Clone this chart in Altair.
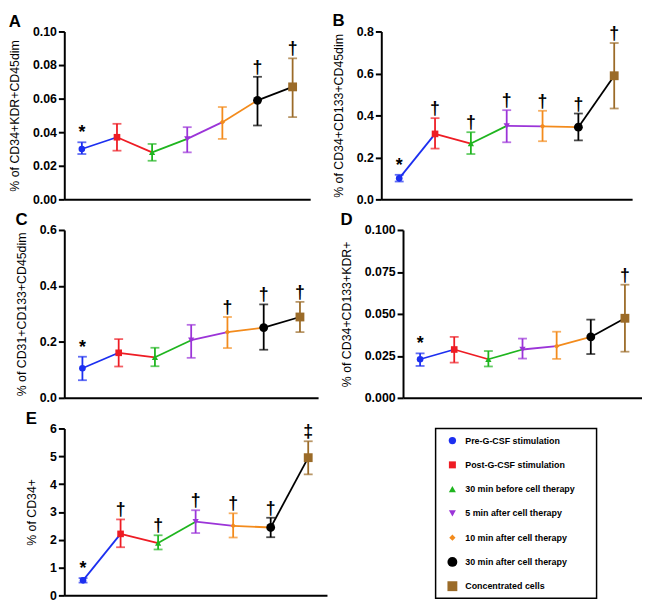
import altair as alt
import pandas as pd

categories = [
    "Pre-G-CSF stimulation",
    "Post-G-CSF stimulation",
    "30 min before cell therapy",
    "5 min after cell therapy",
    "10 min after cell therapy",
    "30 min after cell therapy",
    "Concentrated cells",
]
colors = ["#1c2ff0", "#ee1c24", "#1fb51f", "#9b34d8", "#f38b1c", "#000000", "#9b6b28"]
shapes = ["circle", "square", "triangle-up", "triangle-down", "diamond", "circle", "square"]
plot_sizes = [45, 45, 40, 40, 30, 80, 80]
legend_sizes = [55, 50, 50, 50, 40, 100, 100]

# Panel A
A_mean = [0.030, 0.037, 0.028, 0.036, 0.046, 0.059, 0.067]
A_lo = [0.027, 0.029, 0.023, 0.028, 0.036, 0.044, 0.049]
A_hi = [0.034, 0.045, 0.033, 0.043, 0.055, 0.073, 0.084]
A_sig = ["*", "", "", "", "", "†", "†"]

# Panel B
B_mean = [0.100, 0.312, 0.266, 0.350, 0.348, 0.344, 0.589]
B_lo = [0.085, 0.242, 0.216, 0.272, 0.277, 0.281, 0.433]
B_hi = [0.117, 0.387, 0.320, 0.425, 0.422, 0.409, 0.745]
B_sig = ["*", "†", "†", "†", "†", "†", "†"]

# Panel C
C_mean = [0.106, 0.161, 0.145, 0.206, 0.235, 0.251, 0.289]
C_lo = [0.063, 0.112, 0.113, 0.143, 0.178, 0.172, 0.235]
C_hi = [0.147, 0.210, 0.179, 0.261, 0.289, 0.334, 0.343]
C_sig = ["*", "", "", "", "†", "†", "†"]

# Panel D
D_mean = [0.0230, 0.0288, 0.0230, 0.0288, 0.0308, 0.0363, 0.0474]
D_lo = [0.0190, 0.0210, 0.0187, 0.0234, 0.0232, 0.0261, 0.0275]
D_hi = [0.0265, 0.0363, 0.0279, 0.0353, 0.0394, 0.0466, 0.0674]
D_sig = ["*", "", "", "", "", "", "†"]

# Panel E
E_mean = [0.54, 2.21, 1.88, 2.65, 2.50, 2.44, 4.95]
E_lo = [0.46, 1.73, 1.65, 2.24, 2.08, 2.09, 4.35]
E_hi = [0.62, 2.73, 2.16, 3.06, 2.95, 2.79, 5.54]
E_sig = ["*", "†", "†", "†", "†", "†", "‡"]

FONT = "Liberation Sans, Arial, Helvetica, sans-serif"

color_enc = alt.Color("cat:N", scale=alt.Scale(domain=categories, range=colors), legend=None)
shape_enc = alt.Shape("cat:N", scale=alt.Scale(domain=categories, range=shapes), legend=None)


def panel(letter, ytitle, mean, lo, hi, sig, ymax, ticks, fmt, w, h):
    df = pd.DataFrame({"cat": categories, "mean": mean, "lo": lo, "hi": hi,
                       "sig": sig, "sz": plot_sizes})
    seg = pd.DataFrame({"cat": categories[:-1], "cat2": categories[1:],
                        "ya": mean[:-1], "yb": mean[1:]})
    xs = alt.Scale(type="point", domain=categories, padding=0.5)
    xax = alt.Axis(title=None, labels=False, ticks=False, grid=False,
                   domainColor="black", domainWidth=2)
    x = alt.X("cat:N", scale=xs, axis=xax)
    ys = alt.Scale(domain=[0, ymax], nice=False, zero=True)
    yax = alt.Axis(values=ticks, format=fmt, title=ytitle, grid=False,
                   domainColor="black", domainWidth=2, tickColor="black",
                   tickWidth=2, tickSize=6, labelPadding=2, labelFont=FONT,
                   labelFontSize=12.5, labelFontWeight="bold", labelColor="black",
                   titleFont=FONT, titleFontSize=12.5, titleFontWeight="normal",
                   titleColor="black", titlePadding=11, labelFlush=False)

    def Y(f):
        return alt.Y(f, scale=ys, axis=yax)

    lines = alt.Chart(seg).mark_rule(strokeWidth=1.8).encode(
        x=x, x2=alt.X2("cat2"), y=Y("ya:Q"), y2=alt.Y2("yb"), color=color_enc)
    bars = alt.Chart(df).mark_rule(strokeWidth=1.8).encode(
        x=x, y=Y("lo:Q"), y2=alt.Y2("hi"), color=color_enc)
    cap_lo = alt.Chart(df).mark_tick(size=9, thickness=1.8).encode(
        x=x, y=Y("lo:Q"), color=color_enc)
    cap_hi = alt.Chart(df).mark_tick(size=9, thickness=1.8).encode(
        x=x, y=Y("hi:Q"), color=color_enc)
    pts = alt.Chart(df).mark_point(filled=True, opacity=1, strokeWidth=0).encode(
        x=x, y=Y("mean:Q"), color=color_enc, shape=shape_enc,
        size=alt.Size("sz:Q", scale=None))
    txt = alt.Chart(df).mark_text(font=FONT, fontSize=18, fontWeight="bold",
                                  baseline="alphabetic", dy=-4, color="black").encode(
        x=x, y=Y("hi:Q"), text="sig:N")
    return alt.layer(lines, bars, cap_lo, cap_hi, pts, txt).properties(
        width=w, height=h,
        title=alt.TitleParams(letter, anchor="start", frame="bounds", fontSize=17,
                              fontWeight="bold", font=FONT, color="black", offset=-5))


H = 170
pA = panel("A", "% of CD34+KDR+CD45dim", A_mean, A_lo, A_hi, A_sig, 0.10,
           [0, 0.02, 0.04, 0.06, 0.08, 0.10], ".2f", 249, H)
pB = panel("B", "% of CD34+CD133+CD45dim", B_mean, B_lo, B_hi, B_sig, 0.8,
           [0, 0.2, 0.4, 0.6, 0.8], ".1f", 254, H)
pC = panel("C", "% of CD31+CD133+CD45dim", C_mean, C_lo, C_hi, C_sig, 0.6,
           [0, 0.2, 0.4, 0.6], ".1f", 257, H)
pD = panel("D", "% of CD34+CD133+KDR+", D_mean, D_lo, D_hi, D_sig, 0.1,
           [0, 0.025, 0.05, 0.075, 0.1], ".3f", 242, H)
pE = panel("E", "% of CD34+", E_mean, E_lo, E_hi, E_sig, 6,
           [0, 1, 2, 3, 4, 5, 6], "d", 266, H - 1)

ldf = pd.DataFrame({"cat": categories, "sz": legend_sizes})
ly = alt.Y("cat:N", scale=alt.Scale(type="point", domain=categories, padding=0.5), axis=None)
lpts = alt.Chart(ldf).mark_point(filled=True, opacity=1, strokeWidth=0).encode(
    x=alt.value(17), y=ly, color=color_enc, shape=shape_enc,
    size=alt.Size("sz:Q", scale=None))
ltxt = alt.Chart(ldf).mark_text(align="left", baseline="middle", font=FONT, fontSize=9,
                                fontWeight="bold", color="black").encode(
    x=alt.value(30), y=ly, text="cat:N")
legend = alt.layer(lpts, ltxt).properties(
    width=163, height=172,
    view=alt.ViewBackground(stroke="black", strokeWidth=1.5))

row1 = alt.hconcat(pA, pB, spacing=22)
row2 = alt.hconcat(pC, pD, spacing=22)
row3 = alt.concat(pE, legend, columns=2, spacing=109, align="none")

chart = alt.vconcat(row1, row2, row3, spacing=5).properties(
    padding=0).configure_view(strokeWidth=0)

chart.save("out.html", embed_options={"renderer": "svg", "actions": False})
